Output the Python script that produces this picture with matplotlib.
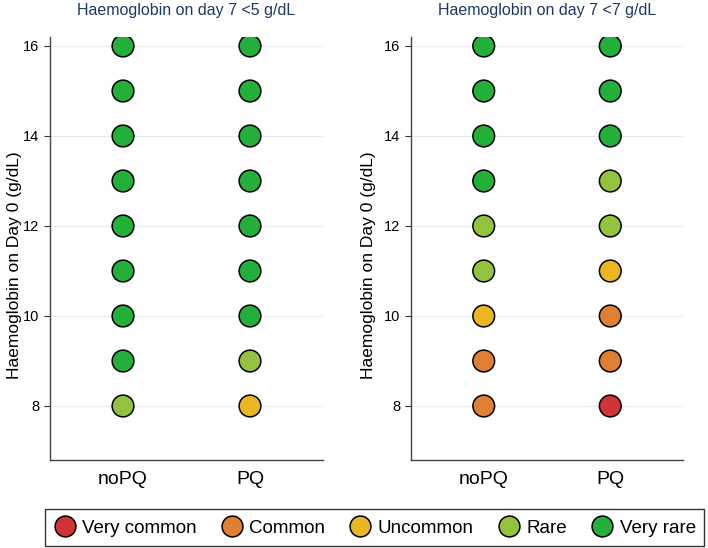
import matplotlib
matplotlib.use("Agg")
import matplotlib.pyplot as plt
from matplotlib.lines import Line2D

plt.rcParams['font.family'] = ['Liberation Sans', 'DejaVu Sans']

categories = ["noPQ", "PQ"]
hb_day0 = [16, 15, 14, 13, 12, 11, 10, 9, 8]
levels = ["Very common", "Common", "Uncommon", "Rare", "Very rare"]
level_colors = ["#D13437", "#E07E31", "#EAB621", "#93C23F", "#23B03A"]

titles = ["Haemoglobin on day 7 <5 g/dL", "Haemoglobin on day 7 <7 g/dL"]
# risk category per Hb day0 value (top to bottom: 16..8)
panel1_noPQ = ["Very rare"] * 8 + ["Rare"]
panel1_PQ = ["Very rare"] * 7 + ["Rare", "Uncommon"]
panel2_noPQ = ["Very rare"] * 4 + ["Rare", "Rare", "Uncommon", "Common", "Common"]
panel2_PQ = ["Very rare"] * 3 + ["Rare", "Rare", "Uncommon", "Common", "Common", "Very common"]
panels = [[panel1_noPQ, panel1_PQ], [panel2_noPQ, panel2_PQ]]

fig = plt.figure(figsize=(7.08, 5.48), dpi=100)
W, H = 708, 548
ax_rects = [(50 / W, 1 - 460 / H, 273 / W, 423 / H),
            (411 / W, 1 - 460 / H, 272 / W, 423 / H)]
label_x = [(7 - 50) / 273, (361 - 411) / 272]
cmap = dict(zip(levels, level_colors))

for i, rect in enumerate(ax_rects):
    ax = fig.add_axes(rect)
    for j, cat in enumerate(categories):
        cols = [cmap[v] for v in panels[i][j]]
        ax.scatter([j] * len(hb_day0), hb_day0, s=245, c=cols,
                   edgecolors="black", linewidths=1.1, zorder=3)
    ax.set_xlim(-0.575, 1.575)
    ax.set_ylim(6.8, 16.2)
    ax.set_yticks([8, 10, 12, 14, 16])
    ax.set_xticks([0, 1])
    ax.set_xticklabels(categories, fontsize=14)
    ax.tick_params(axis='x', length=0, pad=8)
    ax.tick_params(axis='y', labelsize=10.5, length=4, width=0.8, color="#333333")
    ax.grid(axis='y', color="#E3ECF2", linewidth=0.8, zorder=0)
    for s in ["top", "right"]:
        ax.spines[s].set_visible(False)
    for s in ["left", "bottom"]:
        ax.spines[s].set_color("#444444")
        ax.spines[s].set_linewidth(1.0)
    ax.set_ylabel("Haemoglobin on Day 0 (g/dL)", fontsize=12.5,
                  va='top')
    ax.yaxis.set_label_coords(label_x[i], (460 - 265) / 423)
    ax.set_title(titles[i], fontsize=11.5, color="#1F3864", pad=16)

handles = [Line2D([0], [0], marker='o', linestyle='none', markersize=15,
                  markerfacecolor=c, markeredgecolor='black', markeredgewidth=1.1)
           for c in level_colors]
leg = fig.legend(handles, levels, loc='center', ncol=5,
                 bbox_to_anchor=(374.5 / W, 1 - 527.5 / H), fontsize=13.5,
                 frameon=True, fancybox=False, edgecolor='black',
                 handletextpad=0.35, columnspacing=1.25, borderpad=0.45,
                 handlelength=1.2, handleheight=1.2)
leg.get_frame().set_linewidth(1.0)

fig.savefig("out.png", dpi=100)
